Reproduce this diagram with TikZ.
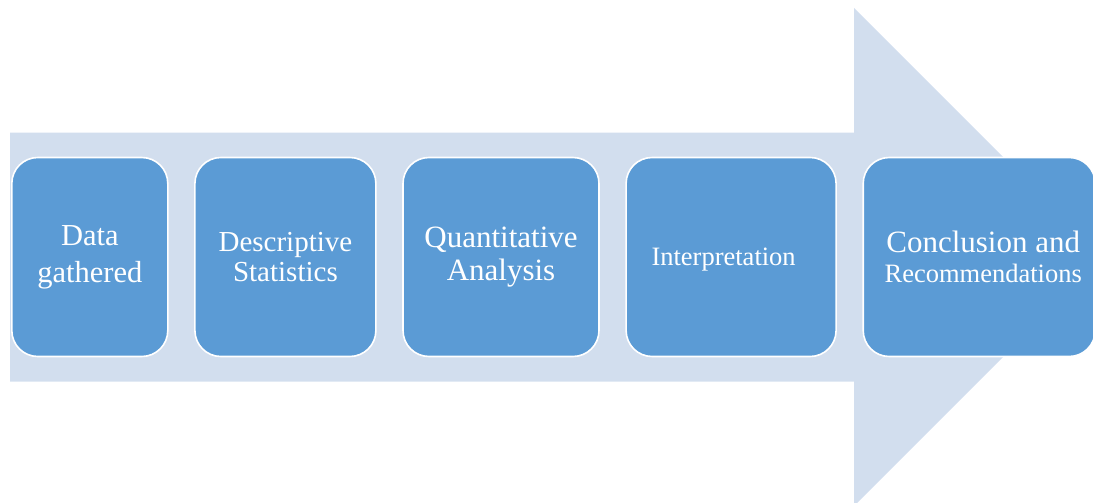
\documentclass[tikz,border=0pt]{standalone}
\usepackage{fontspec}
\setmainfont{Liberation Serif}
\usetikzlibrary{positioning}
\definecolor{arrowfill}{HTML}{D2DEEE}
\definecolor{boxfill}{HTML}{5B9BD5}
\tikzset{
  stepbox/.style={draw=white, line width=1.6pt, fill=boxfill, rounded corners=26pt,
    text=white, align=center, inner sep=0pt, minimum height=199pt},
}

\begin{document}
\begin{tikzpicture}[x=1pt,y=-1pt]
    \useasboundingbox (0,0) rectangle (1093,503);
    \clip (0,0) rectangle (1093,503);
    % big arrow behind the steps
    \fill[arrowfill] (10,132.7) -- (854,132.7) -- (854,8) -- (1103,257)
        -- (854,506) -- (854,381.7) -- (10,381.7) -- cycle;
    % the five steps
    \node[stepbox, minimum width=156pt, anchor=west, font=\fontsize{30.5}{37}\selectfont]
        (data) at (11,257) {Data\\gathered};
    \node[stepbox, minimum width=181pt, right=25.5pt of data, font=\fontsize{29}{30}\selectfont]
        (desc) {Descriptive\\Statistics};
    \node[stepbox, minimum width=196pt, right=25.5pt of desc, font=\fontsize{31}{32.7}\selectfont]
        (quant) {Quantitative\\Analysis};
    \node[stepbox, minimum width=210pt, right=25.5pt of quant, text depth=0pt, font=\fontsize{26.5}{30}\selectfont]
        (interp) {Interpretation\hspace*{15pt}};
    \node[stepbox, minimum width=232pt, right=25.5pt of interp, font=\fontsize{31}{30}\selectfont]
        (concl) {\hspace*{8pt}Conclusion and\\\hspace*{8pt}{\fontsize{26.5}{30}\selectfont Recommendations}};
\end{tikzpicture}
\end{document}
